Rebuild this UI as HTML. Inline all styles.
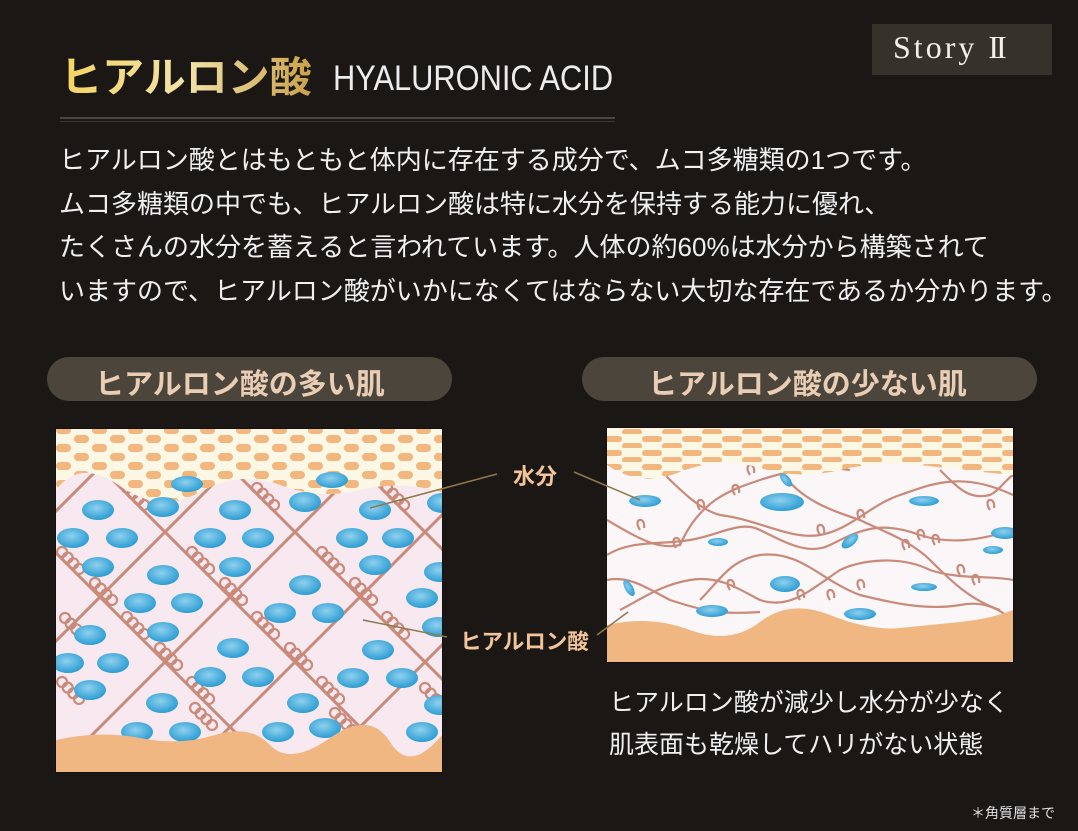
<!DOCTYPE html>
<html><head><meta charset="utf-8"><style>
html,body{margin:0;padding:0;background:#1b1715;width:1078px;height:831px;overflow:hidden;}
body{position:relative;font-family:"Liberation Sans","Noto Sans CJK JP",sans-serif;}
.t{position:absolute;white-space:nowrap;}
</style></head><body>
<svg width="1078" height="831" style="position:absolute;left:0;top:0">
<defs>
<linearGradient id="gold" x1="0" y1="0" x2="1" y2="0"><stop offset="0" stop-color="#f5d560"/><stop offset="0.5" stop-color="#f2e2a8"/><stop offset="1" stop-color="#c9a24a"/></linearGradient>
<radialGradient id="bl" cx="0.45" cy="0.4" r="0.6"><stop offset="0" stop-color="#8fd0ee"/><stop offset="1" stop-color="#2b9dd3"/></radialGradient>
<pattern id="dash" width="36" height="18" patternUnits="userSpaceOnUse"><rect x="2" y="3" width="15" height="8" rx="4" fill="#f1b77f"/><rect x="20" y="12" width="15" height="8" rx="4" fill="#f1b77f"/><rect x="20" y="-6" width="15" height="8" rx="4" fill="#f1b77f"/></pattern>
<pattern id="dash2" width="40" height="14" patternUnits="userSpaceOnUse"><rect x="2" y="2" width="20" height="6" rx="3" fill="#f1b77f"/><rect x="22" y="9" width="20" height="6" rx="3" fill="#f1b77f"/><rect x="-18" y="9" width="20" height="6" rx="3" fill="#f1b77f"/></pattern>
<clipPath id="cl"><rect x="56" y="429" width="386" height="343"/></clipPath>
<clipPath id="cr"><rect x="607" y="428" width="406" height="234"/></clipPath>
<g id="coil" fill="none" stroke="#c98a7a" stroke-width="2.2"><circle cx="-12" cy="-5" r="5"/><circle cx="-4" cy="-5" r="5"/><circle cx="4" cy="-5" r="5"/><circle cx="12" cy="-5" r="5"/></g>
</defs>
<rect width="1078" height="831" fill="#1b1715"/>
<rect x="60" y="117" width="555" height="2" fill="#4a4540"/>
<rect x="60" y="121" width="555" height="1" fill="#3a3632"/>
<rect x="872" y="24" width="180" height="51" fill="#35322c"/>
<rect x="47" y="357" width="405" height="44" rx="22" fill="#4b453c"/>
<rect x="582" y="357" width="455" height="44" rx="22" fill="#4b453c"/>
<g clip-path="url(#cl)">
<rect x="56" y="429" width="386" height="343" fill="#f8e9f0"/>
<g stroke="#c98a7a" stroke-width="3">
<line x1="-200" y1="637" x2="600" y2="-163"/><line x1="-200" y1="767" x2="700" y2="-133"/><line x1="-200" y1="897" x2="800" y2="-103"/><line x1="-100" y1="927" x2="900" y2="-73"/><line x1="0" y1="957" x2="900" y2="57"/><line x1="100" y1="987" x2="900" y2="187"/><line x1="200" y1="1017" x2="900" y2="317"/><line x1="300" y1="1047" x2="900" y2="447"/>
<line x1="-300" y1="197" x2="700" y2="1197"/><line x1="-300" y1="67" x2="700" y2="1067"/><line x1="-300" y1="-63" x2="700" y2="937"/><line x1="-170" y1="-63" x2="830" y2="937"/><line x1="-40" y1="-63" x2="960" y2="937"/><line x1="90" y1="-63" x2="1090" y2="937"/><line x1="220" y1="-63" x2="1220" y2="937"/>
</g>
<g>
<use href="#coil" transform="translate(67,694) rotate(45)"/><use href="#coil" transform="translate(67,564) rotate(45)"/><use href="#coil" transform="translate(132,629) rotate(45)"/><use href="#coil" transform="translate(197,694) rotate(45)"/><use href="#coil" transform="translate(132,500) rotate(45)"/><use href="#coil" transform="translate(197,564) rotate(45)"/><use href="#coil" transform="translate(262,629) rotate(45)"/><use href="#coil" transform="translate(327,694) rotate(45)"/><use href="#coil" transform="translate(262,500) rotate(45)"/><use href="#coil" transform="translate(327,564) rotate(45)"/><use href="#coil" transform="translate(392,629) rotate(45)"/><use href="#coil" transform="translate(392,500) rotate(45)"/>
<use href="#coil" transform="translate(200,720) rotate(45)"/><use href="#coil" transform="translate(340,725) rotate(45)"/><use href="#coil" transform="translate(430,700) rotate(45)"/><use href="#coil" transform="translate(70,630) rotate(45)"/>
<use href="#coil" transform="translate(165,660) rotate(45)"/><use href="#coil" transform="translate(295,660) rotate(45)"/><use href="#coil" transform="translate(230,595) rotate(45)"/><use href="#coil" transform="translate(360,595) rotate(45)"/><use href="#coil" transform="translate(100,595) rotate(45)"/>
</g>
<path d="M56,429H442V492Q400,480 360,490T280,485T200,492T120,486T56,490Z" fill="#fdf7e6"/>
<path d="M56,429H442V492Q400,480 360,490T280,485T200,492T120,486T56,490Z" fill="url(#dash)"/>
<g fill="url(#bl)">
<ellipse cx="98" cy="510" rx="16" ry="10"/><ellipse cx="163" cy="507" rx="16" ry="10"/><ellipse cx="235" cy="510" rx="16" ry="10"/><ellipse cx="305" cy="502" rx="16" ry="10"/><ellipse cx="375" cy="510" rx="16" ry="10"/><ellipse cx="443" cy="503" rx="16" ry="10"/>
<ellipse cx="73" cy="538" rx="16" ry="10"/><ellipse cx="122" cy="538" rx="16" ry="10"/><ellipse cx="210" cy="538" rx="16" ry="10"/><ellipse cx="258" cy="538" rx="16" ry="10"/><ellipse cx="352" cy="538" rx="16" ry="10"/><ellipse cx="398" cy="538" rx="16" ry="10"/>
<ellipse cx="98" cy="567" rx="16" ry="10"/><ellipse cx="163" cy="575" rx="16" ry="10"/><ellipse cx="235" cy="567" rx="16" ry="10"/><ellipse cx="305" cy="585" rx="16" ry="10"/><ellipse cx="375" cy="565" rx="16" ry="10"/><ellipse cx="440" cy="572" rx="16" ry="10"/>
<ellipse cx="140" cy="603" rx="16" ry="10"/><ellipse cx="187" cy="603" rx="16" ry="10"/><ellipse cx="280" cy="613" rx="16" ry="10"/><ellipse cx="328" cy="613" rx="16" ry="10"/><ellipse cx="422" cy="598" rx="16" ry="10"/>
<ellipse cx="90" cy="635" rx="16" ry="10"/><ellipse cx="163" cy="632" rx="16" ry="10"/><ellipse cx="233" cy="648" rx="16" ry="10"/><ellipse cx="378" cy="650" rx="16" ry="10"/><ellipse cx="438" cy="627" rx="16" ry="10"/>
<ellipse cx="68" cy="663" rx="16" ry="10"/><ellipse cx="113" cy="663" rx="16" ry="10"/><ellipse cx="210" cy="677" rx="16" ry="10"/><ellipse cx="258" cy="677" rx="16" ry="10"/><ellipse cx="353" cy="678" rx="16" ry="10"/><ellipse cx="402" cy="678" rx="16" ry="10"/>
<ellipse cx="90" cy="690" rx="16" ry="10"/><ellipse cx="162" cy="703" rx="16" ry="10"/><ellipse cx="303" cy="703" rx="16" ry="10"/><ellipse cx="440" cy="705" rx="16" ry="10"/>
<ellipse cx="137" cy="732" rx="16" ry="10"/><ellipse cx="185" cy="732" rx="16" ry="10"/><ellipse cx="278" cy="732" rx="16" ry="10"/><ellipse cx="325" cy="728" rx="16" ry="10"/><ellipse cx="422" cy="732" rx="16" ry="10"/>
<ellipse cx="187" cy="484" rx="16" ry="8"/><ellipse cx="332" cy="480" rx="16" ry="8"/>
</g>
<path d="M56,740Q100,730 140,738T215,735T270,745T330,738T390,742T442,735V772H56Z" fill="#f0b782"/>
</g>
<rect x="55.5" y="428.5" width="387" height="344" fill="none" stroke="#111" stroke-width="1"/>
<g clip-path="url(#cr)">
<rect x="607" y="428" width="406" height="234" fill="#fbf6f8"/>
<g fill="none" stroke="#c98a7a" stroke-width="2.2">
<path d="M607,520C640,540 660,550 680,545C700,500 730,490 760,480C790,470 820,465 850,470"/>
<path d="M660,470C680,490 700,510 720,515C760,520 790,540 820,535C850,530 870,505 900,495C930,485 960,470 1013,495"/>
<path d="M607,555C630,540 660,545 690,540C720,535 740,520 760,530C790,545 810,555 830,545C860,530 880,520 920,535C950,545 980,540 1013,530"/>
<path d="M620,610C640,600 660,585 690,580C720,575 740,590 760,600C790,610 810,590 840,570C860,560 900,555 930,570C960,580 990,575 1013,580"/>
<path d="M700,600C720,580 730,560 760,555C800,550 820,580 860,595C900,605 930,610 960,605C985,600 1000,610 1013,620"/>
<path d="M780,470C800,500 830,510 860,520C880,530 910,540 930,560C950,580 970,600 1000,610"/>
<path d="M607,580C630,575 650,590 670,600C700,610 720,615 760,612"/>
<path d="M940,470C960,490 970,500 990,495C1000,490 1005,480 1013,475"/>
<path d="M676,548c-8,-12 6,-14 4,-2M700,510c-8,-12 6,-14 4,-2M735,495c-8,-12 6,-14 4,-2M750,475c-8,-12 6,-14 4,-2M820,535c-8,-12 6,-14 4,-2M860,520c-8,-12 6,-14 4,-2M905,550c-8,-12 6,-14 4,-2M920,540c-8,-12 6,-14 4,-2M935,545c-8,-12 6,-14 4,-2M960,575c-8,-12 6,-14 4,-2M975,585c-8,-12 6,-14 4,-2M730,590c-8,-12 6,-14 4,-2M800,600c-8,-12 6,-14 4,-2M830,600c-8,-12 6,-14 4,-2M640,530c-8,-12 6,-14 4,-2M860,590c-8,-12 6,-14 4,-2M990,510c-8,-12 6,-14 4,-2"/>
</g>
<path d="M607,428H1013V475Q960,470 920,465T840,470T760,468T680,472T607,465Z" fill="#fdf7e6"/>
<path d="M607,428H1013V475Q960,470 920,465T840,470T760,468T680,472T607,465Z" fill="url(#dash2)"/>
<g fill="url(#bl)">
<ellipse cx="645" cy="501" rx="16" ry="6"/><ellipse cx="782" cy="502" rx="22" ry="9"/><ellipse cx="786" cy="480" rx="4" ry="8" transform="rotate(-40 786 480)"/><ellipse cx="924" cy="501" rx="15" ry="5"/><ellipse cx="1005" cy="533" rx="14" ry="6"/><ellipse cx="718" cy="542" rx="10" ry="4"/><ellipse cx="850" cy="541" rx="5" ry="10" transform="rotate(50 850 541)"/><ellipse cx="993" cy="550" rx="10" ry="4"/><ellipse cx="629" cy="588" rx="4" ry="9" transform="rotate(-30 629 588)"/><ellipse cx="785" cy="584" rx="15" ry="8"/><ellipse cx="924" cy="587" rx="13" ry="4"/><ellipse cx="712" cy="611" rx="16" ry="6"/><ellipse cx="860" cy="614" rx="16" ry="6"/>
</g>
<path d="M607,625Q650,615 690,630T760,622T830,615T900,628T960,622T1013,610V662H607Z" fill="#f0b782"/>
</g>
<rect x="606.5" y="427.5" width="407" height="235" fill="none" stroke="#111" stroke-width="1"/>
<g stroke="#8d7a4a" stroke-width="1.5"><line x1="497" y1="474" x2="370" y2="508"/><line x1="574" y1="472" x2="640" y2="500"/><line x1="447" y1="637" x2="363" y2="620"/><line x1="597" y1="635" x2="628" y2="612"/></g>
<text x="60" y="92" font-family="Liberation Sans,Noto Sans CJK JP,sans-serif" font-weight="bold" font-size="42" fill="url(#gold)">ヒアルロン酸</text>
</svg>
<div class="t" style="left:333px;top:59px;font-size:35px;color:#ececec;font-family:'Liberation Sans',sans-serif;transform:scaleX(0.88);transform-origin:left">HYALURONIC ACID</div>
<div class="t" style="left:893px;top:29px;font-size:32px;color:#f2f0ea;font-family:'Liberation Serif',serif;letter-spacing:3px">Story <span style="letter-spacing:-3px">II</span></div>
<div class="t" style="left:59px;top:139px;font-size:26px;line-height:43.5px;color:#f0f0f0;">ヒアルロン酸とはもともと体内に存在する成分で、ムコ多糖類の1つです。<br>ムコ多糖類の中でも、ヒアルロン酸は特に水分を保持する能力に優れ、<br>たくさんの水分を蓄えると言われています。人体の約60%は水分から構築されて<br>いますので、ヒアルロン酸がいかになくてはならない大切な存在であるか分かります。</div>
<div class="t" style="left:95px;top:361px;font-size:29px;font-weight:bold;color:#e9cdb4;">ヒアルロン酸の多い肌</div>
<div class="t" style="left:648px;top:361px;font-size:29px;font-weight:bold;color:#e9cdb4;">ヒアルロン酸の少ない肌</div>
<div class="t" style="left:513px;top:459px;font-size:22px;font-weight:bold;color:#f2c49a;">水分</div>
<div class="t" style="left:460px;top:625px;font-size:21.5px;font-weight:bold;color:#f2c49a;">ヒアルロン酸</div>
<div class="t" style="left:609px;top:682px;font-size:25px;line-height:42px;color:#f0f0f0;">ヒアルロン酸が減少し水分が少なく<br>肌表面も乾燥してハリがない状態</div>
<div class="t" style="left:971px;top:803px;font-size:14px;color:#e0e0e0;">＊角質層まで</div>
</body></html>
